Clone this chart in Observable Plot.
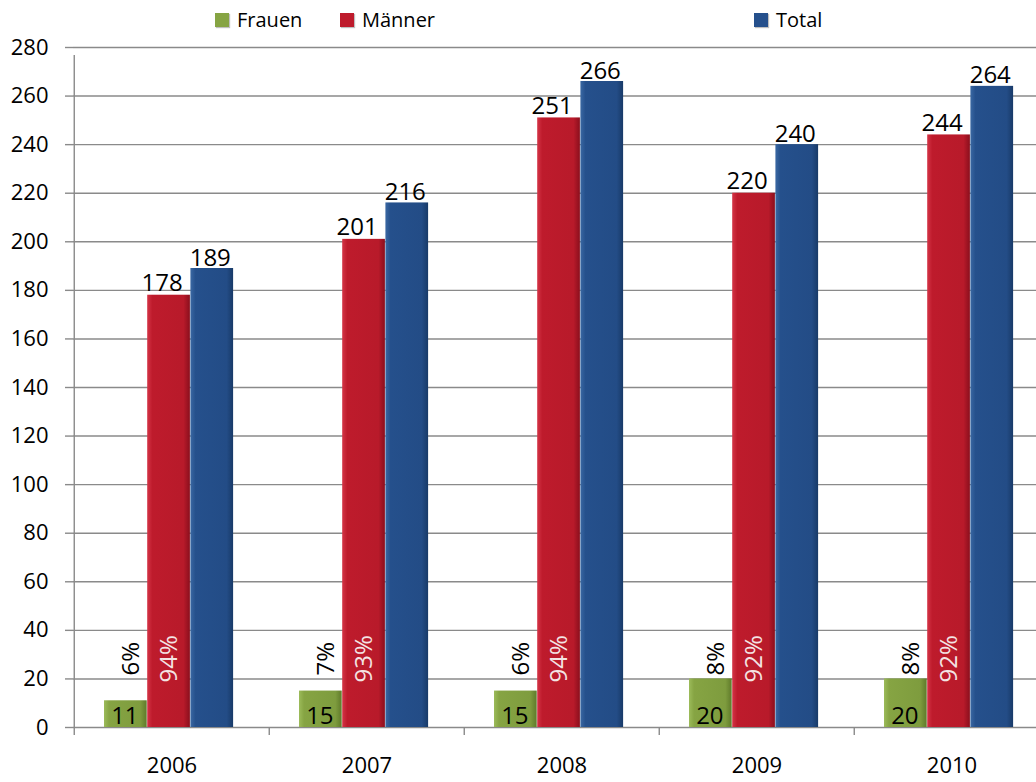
<!DOCTYPE html>
<html>
<head>
<meta charset="utf-8">
<script src="https://cdn.jsdelivr.net/npm/d3@7"></script>
<script src="https://cdn.jsdelivr.net/npm/@observablehq/plot@0.6"></script>
<style>
  html, body { margin: 0; padding: 0; background: #fff; overflow: hidden; }
  body { width: 1036px; height: 782px; position: relative; font-family: "Open Sans", sans-serif; }
  #legend { position: absolute; left: 0; top: 0; width: 1036px; height: 40px; z-index: 2; }
  .item { position: absolute; top: 8px; display: flex; align-items: center; gap: 8px; font-size: 20px; line-height: 24px; color: #000; }
  .sw { width: 14px; height: 14px; display: inline-block; box-shadow: 1px 1px 1px rgba(0,0,0,0.25); }
  #chart { position: absolute; left: 0; top: 0; }
</style>
</head>
<body>
<div id="chart"></div>
<div id="legend"></div>
<script>
// ---- data ----
const years = ["2006", "2007", "2008", "2009", "2010"];
const frauen = [11, 15, 15, 20, 20];
const maenner = [178, 201, 251, 220, 244];
const total = [189, 216, 266, 240, 264];
const frauenPct = ["6%", "7%", "6%", "8%", "8%"];
const maennerPct = ["94%", "93%", "94%", "92%", "92%"];
const yTicks = [0, 20, 40, 60, 80, 100, 120, 140, 160, 180, 200, 220, 240, 260, 280];
const seriesNames = ["Frauen", "Männer", "Total"];
const seriesColors = ["#86A443", "#BE1B2C", "#25508C"];

const rows = years.map((year, i) => ({
  year, frauen: frauen[i], maenner: maenner[i], total: total[i],
  fPct: frauenPct[i], mPct: maennerPct[i]
}));

// ---- legend ----
const legendLeft = [215, 340, 754];
const legend = document.getElementById("legend");
seriesNames.forEach((name, i) => {
  const it = document.createElement("div");
  it.className = "item";
  it.style.left = legendLeft[i] + "px";
  it.innerHTML = `<span class="sw" style="background:${seriesColors[i]}"></span><span>${name}</span>`;
  legend.appendChild(it);
});

// ---- layout ----
const W = 1036, H = 782;
const xRange = [73, 1050.5];
const bw = (xRange[1] - xRange[0]) / years.length;      // band width
const barW = 43.2, firstOff = 30;
const slot = k => ({ l: firstOff + k * barW, r: bw - (firstOff + (k + 1) * barW), c: firstOff + (k + 0.5) * barW - bw / 2 });
const sF = slot(0), sM = slot(1), sT = slot(2);

const chart = Plot.plot({
  width: W, height: H,
  marginLeft: 73, marginRight: 0, marginTop: 47, marginBottom: 55,
  x: { domain: years, range: xRange, padding: 0, axis: null },
  y: { domain: [0, 280], axis: null },
  style: { fontFamily: "Open Sans, sans-serif", color: "#000", background: "#fff", overflow: "hidden" },
  marks: [
    Plot.gridY(yTicks, { stroke: "#8a8a8a", strokeOpacity: 1, strokeWidth: 1.4 }),
    Plot.axisY(yTicks, { tickSize: 8, tickPadding: 17, fontSize: 22, stroke: "#8a8a8a", strokeWidth: 1.4, label: null, tickFormat: d => String(d) }),
    // y axis line
    Plot.ruleX([years[0]], { x: d => d, dx: -bw / 2, y1: 0, y2: 280, insetBottom: -8, stroke: "#8a8a8a", strokeWidth: 1.4 }),
    // category boundary ticks
    Plot.ruleX(years, { x: d => d, dx: -bw / 2, y1: 0, y2: 0, insetBottom: -8, stroke: "#8a8a8a", strokeWidth: 1.4 }),
    Plot.axisX(years, { tickSize: 0, tickPadding: 30, fontSize: 22, label: null }),
    // bars
    Plot.barY(rows, { x: "year", y: "frauen", fill: "url(#gF)", insetLeft: sF.l, insetRight: sF.r }),
    Plot.barY(rows, { x: "year", y: "maenner", fill: "url(#gM)", insetLeft: sM.l, insetRight: sM.r }),
    Plot.barY(rows, { x: "year", y: "total", fill: "url(#gT)", insetLeft: sT.l, insetRight: sT.r }),
    // value labels
    Plot.text(rows, { x: "year", y: "maenner", text: d => String(d.maenner), dx: sM.c - 7, dy: -4, lineAnchor: "bottom", fontSize: 24, fill: "#000" }),
    Plot.text(rows, { x: "year", y: "total", text: d => String(d.total), dx: sT.c - 2, dy: -3, lineAnchor: "bottom", fontSize: 24, fill: "#000" }),
    Plot.text(rows, { x: "year", y: 0, text: d => String(d.frauen), dx: sF.c - 1, dy: -4, lineAnchor: "bottom", fontSize: 24, fill: "#000" }),
    // percentage labels
    Plot.text(rows, { x: "year", y: 0, text: "fPct", rotate: -90, textAnchor: "start", dx: sF.c + 5, dy: -52, fontSize: 24, fill: "#000" }),
    Plot.text(rows, { x: "year", y: 0, text: "mPct", rotate: -90, textAnchor: "start", dx: sM.c, dy: -45, fontSize: 24, fill: "#F4E4E4" })
  ]
});

// gradients for bevelled bar look
const svg = d3.select(chart);
const defs = svg.insert("defs", ":first-child");
function grad(id, stops) {
  const g = defs.append("linearGradient").attr("id", id).attr("x1", "0").attr("x2", "1").attr("y1", "0").attr("y2", "0");
  stops.forEach(([o, c]) => g.append("stop").attr("offset", o).attr("stop-color", c));
}
grad("gF", [[0, "#9CBB5A"], [0.12, "#86A443"], [0.85, "#7E9C3E"], [1, "#5F7A2A"]]);
grad("gM", [[0, "#D43446"], [0.12, "#BE1B2C"], [0.85, "#B81A2A"], [1, "#8A0F1D"]]);
grad("gT", [[0, "#3A68A3"], [0.12, "#25508C"], [0.85, "#234C86"], [1, "#183A68"]]);

document.getElementById("chart").appendChild(chart);
</script>
</body>
</html>
